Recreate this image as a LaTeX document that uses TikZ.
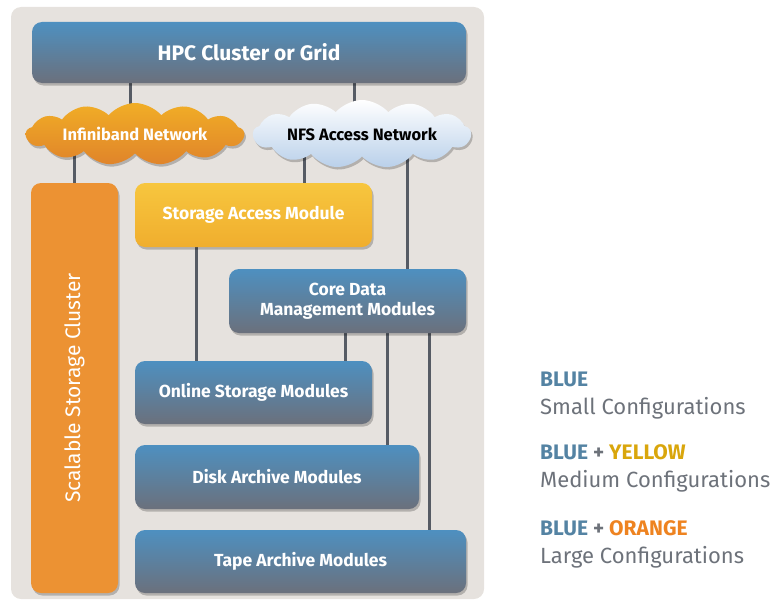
\documentclass[tikz,border=0pt]{standalone}
\usepackage{fontspec}
\setmainfont{Fira Sans}
\usetikzlibrary{shapes.symbols,shadows}
\pgfdeclarelayer{back}
\pgfdeclarelayer{wires}
\pgfsetlayers{back,wires,main}
\definecolor{panelc}{HTML}{E6E2DE}
\definecolor{btop}{HTML}{4E90C0}
\definecolor{bbot}{HTML}{6B707C}
\definecolor{otop}{HTML}{EC9233}
\definecolor{obot}{HTML}{E0842A}
\definecolor{ytop}{HTML}{F7C63E}
\definecolor{ybot}{HTML}{F0AE2E}
\definecolor{wire}{HTML}{565B64}
\definecolor{legblue}{HTML}{5483A3}
\definecolor{leggray}{HTML}{6D727A}
\definecolor{legyellow}{HTML}{D9A60C}
\definecolor{legorange}{HTML}{EE8320}
\definecolor{nfsbot}{HTML}{B9D0EA}
\tikzset{
  shad/.style={drop shadow={shadow xshift=1.5pt, shadow yshift=-2.5pt, fill=black, opacity=0.22}},
  modbox/.style={rounded corners=10pt, top color=btop, bottom color=bbot, shad,
     text=white, font=\bfseries\fontsize{17.5}{19.5}\selectfont, align=center, inner sep=0pt},
  yelbox/.style={modbox, top color=ytop, bottom color=ybot},
  orgbox/.style={modbox, top color=otop, bottom color=obot},
  netcloud/.style={cloud, cloud puffs=13, cloud puff arc=100, cloud ignores aspect, shad,
     font=\bfseries\fontsize{16.5}{18}\selectfont, inner sep=0pt},
  wireline/.style={draw=wire, line width=3pt},
  legbig/.style={anchor=west, font=\bfseries\fontsize{21}{23}\selectfont, inner sep=0pt},
  legsmall/.style={anchor=west, font=\fontsize{22}{24}\selectfont, text=leggray, inner sep=0pt}
}
\begin{document}
\begin{tikzpicture}[x=1pt,y=-1pt]
\useasboundingbox (0,0) rectangle (783,602);
\begin{pgfonlayer}{back}
\fill[fill=panelc, rounded corners=10pt] (11,7) rectangle (484,599);
\end{pgfonlayer}

\node[modbox, minimum width=434pt, minimum height=61pt, font=\bfseries\fontsize{21}{23}\selectfont] (hpc) at (249,52.5) {HPC Cluster or Grid};

\node[netcloud, top color=otop!75!yellow, bottom color=obot, text=white, minimum width=218pt, minimum height=62pt] (ib) at (135,134) {Infiniband Network};
\node[netcloud, top color=white, bottom color=nfsbot, text=black, minimum width=218pt, minimum height=68pt] (nfs) at (362,134) {NFS Access Network};

\node[orgbox, rotate=90, minimum width=410pt, minimum height=87pt, top color=otop, bottom color=otop, font=\mdseries\fontsize{21}{23}\selectfont] (ssc) at (74.5,388) {Scalable Storage Cluster};

\node[yelbox, minimum width=237pt, minimum height=64pt] (sam) at (253.5,215) {Storage Access Module};
\node[modbox, minimum width=237pt, minimum height=64pt] (core) at (347.5,301) {Core Data\\Management Modules};
\node[modbox, minimum width=237pt, minimum height=63pt] (online) at (253.5,392.5) {Online Storage Modules};
\node[modbox, minimum width=284pt, minimum height=64pt] (disk) at (277,477) {Disk Archive Modules};
\node[modbox, minimum width=331pt, minimum height=63pt] (tape) at (300.5,561.5) {Tape Archive Modules};

\begin{pgfonlayer}{wires}
\draw[wireline] ([xshift=-5pt]ib.center) -- ([xshift=-5pt]ib.center |- hpc.center);
\draw[wireline] ([xshift=-8pt]nfs.center) -- ([xshift=-8pt]nfs.center |- hpc.center);
\draw[wireline] (ssc.center) -- (ssc.center |- ib.center);
\draw[wireline] ([xshift=50.5pt]sam.center) -- ([xshift=50.5pt]sam.center |- nfs.center);
\draw[wireline] ([xshift=59.5pt]core.center) -- ([xshift=59.5pt]core.center |- nfs.center);
\draw[wireline] ([xshift=-57.5pt]sam.center) -- ([xshift=-57.5pt]sam.center |- online.center);
\draw[wireline] ([xshift=-2.5pt]core.center) -- ([xshift=-2.5pt]core.center |- online.center);
\draw[wireline] ([xshift=39.5pt]core.center) -- ([xshift=39.5pt]core.center |- disk.center);
\draw[wireline] ([xshift=81.5pt]core.center) -- ([xshift=81.5pt]core.center |- tape.center);
\end{pgfonlayer}

\node[legbig, text=legblue] (l1) at (540,379) {BLUE};
\node[legsmall] (l1b) at (540,408) {Small Configurations};
\node[legbig, text=legblue] (l2) at (540,452) {BLUE \textcolor{leggray}{+} \textcolor{legyellow}{YELLOW}};
\node[legsmall] (l2b) at (540,481) {Medium Configurations};
\node[legbig, text=legblue] (l3) at (540,528) {BLUE \textcolor{leggray}{+} \textcolor{legorange}{ORANGE}};
\node[legsmall] (l3b) at (540,557) {Large Configurations};
\end{tikzpicture}
\end{document}
